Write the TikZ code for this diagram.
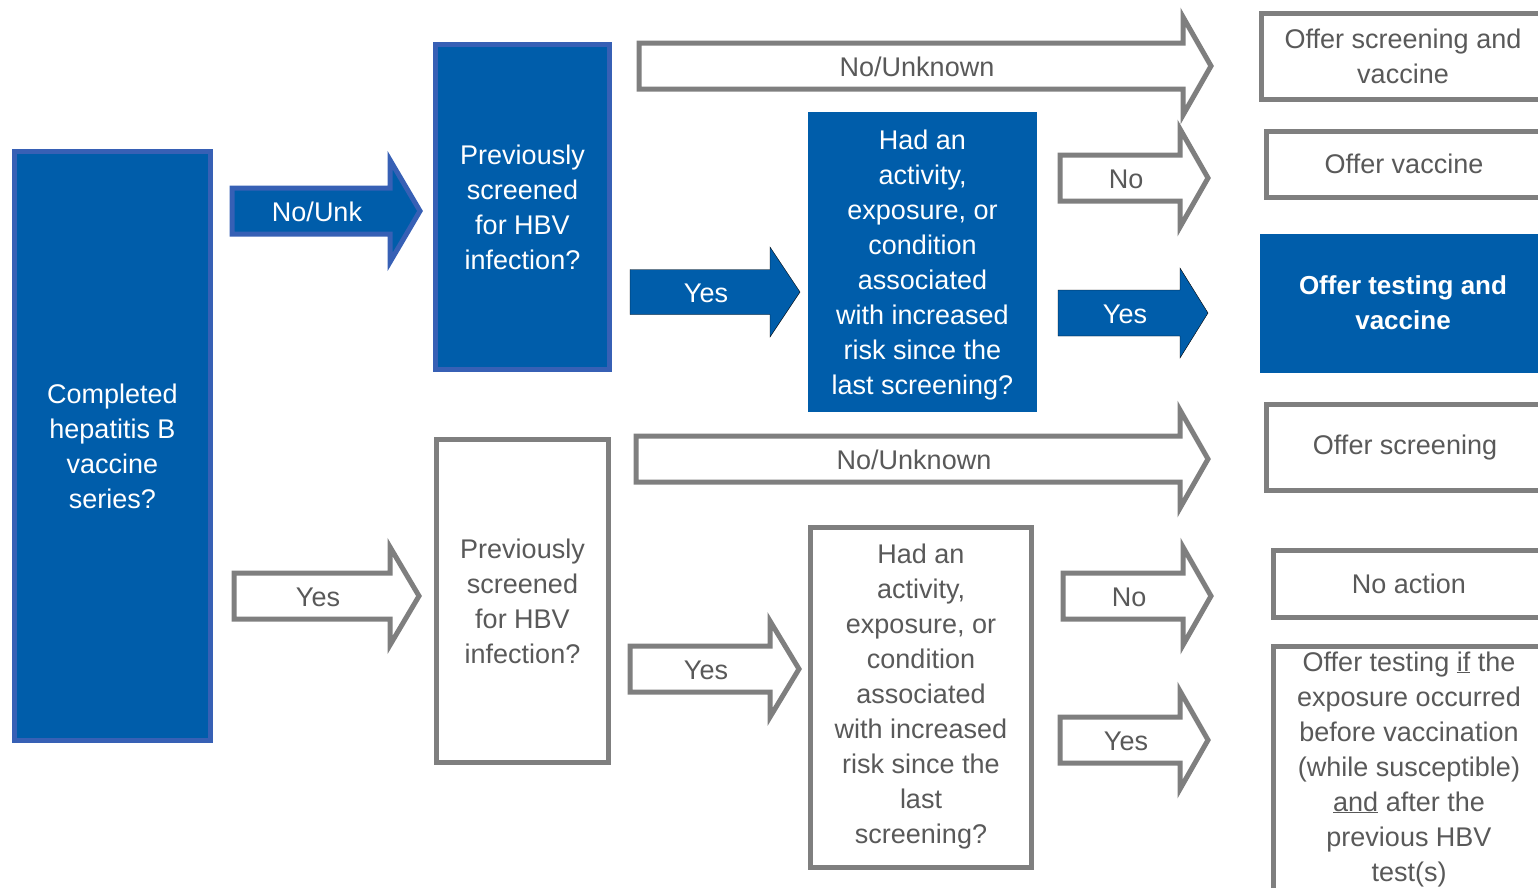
\documentclass[tikz,border=0pt]{standalone}
\usepackage{fontspec}
\setmainfont{Liberation Sans}
\definecolor{cblue}{RGB}{0,93,170}
\definecolor{cedge}{RGB}{55,96,181}
\definecolor{cgray}{RGB}{127,127,127}
\definecolor{ctext}{RGB}{89,89,89}
\newcommand\txtfont{\fontsize{27}{35}\selectfont}
\tikzset{
  box/.style={rectangle, draw=cgray, line width=5pt, fill=white, text=ctext,
    align=center, inner sep=0pt, font=\txtfont},
  bluebox/.style={rectangle, fill=cblue, text=white, align=center, inner sep=0pt, font=\txtfont},
  blueedge/.style={draw=cedge, line width=5pt},
  ga/.style={draw=cgray, line width=5pt, fill=white, line join=miter, miter limit=10},
  ga lbl/.style={text=ctext, font=\txtfont, inner sep=0pt},
  ba/.style={fill=cblue},
  ba lbl/.style={text=white, font=\txtfont, inner sep=0pt},
  be/.style={fill=cblue, draw=cedge, line width=5pt, line join=miter, miter limit=10},
  be lbl/.style={text=white, font=\txtfont, inner sep=0pt},
}
% #1 style, #2 name, #3 x0, #4 xh, #5 xt, #6 yc, #7 half shaft, #8 half head, #9 label
\newcommand\blockarrow[9]{%
  \draw[#1] (#3,#6-#7) -- (#4,#6-#7) -- (#4,#6-#8) -- (#5,#6) -- (#4,#6+#8)
    -- (#4,#6+#7) -- (#3,#6+#7) -- cycle;
  \node[#1 lbl] (#2) at ({(#3+#4)/2+6},#6+1) {#9};
}
\begin{document}
\begin{tikzpicture}[x=1pt,y=-1pt]
\useasboundingbox (0,0) rectangle (1538,887);
\clip (0,0) rectangle (1538,887);

% left question
\node[bluebox, blueedge, minimum width=196pt, minimum height=589pt] (q1) at (112.5,446)
  {Completed\\hepatitis B\\vaccine\\series?};

% upper branch
\blockarrow{be}{a1}{232}{390}{420}{211}{23}{51}{No/Unk}
\node[bluebox, blueedge, minimum width=174pt, minimum height=325pt] (q2) at (522.5,207)
  {Previously\\screened\\for HBV\\infection?};
\blockarrow{ga}{a2}{639}{1183}{1211}{66}{23}{49}{No/Unknown}
\blockarrow{ba}{a3}{630}{770}{800}{292}{22.5}{45}{Yes}
\node[bluebox, minimum width=229pt, minimum height=300pt, text depth=0pt] (q3) at (922.5,262)
  {\raisebox{-4pt}{}Had an\\activity,\\exposure, or\\condition\\associated\\with increased\\risk since the\\last screening?};
\blockarrow{ga}{a4}{1060}{1180}{1208}{178}{23}{49}{No}
\blockarrow{ba}{a5}{1058}{1180}{1208}{313}{23}{45}{Yes}

\node[box, minimum width=283pt, minimum height=86pt] (r1) at (1403,56)
  {Offer screening and\\vaccine};
\node[box, minimum width=275pt, minimum height=66pt] (r2) at (1404,164)
  {Offer vaccine};
\node[bluebox, minimum width=286pt, minimum height=139pt, font=\fontsize{26}{35}\selectfont\bfseries] (r3) at (1403,303)
  {Offer testing and\\vaccine};

% lower branch
\blockarrow{ga}{a6}{234}{390}{419}{596}{23}{49}{Yes}
\node[box, minimum width=172pt, minimum height=323pt] (q4) at (522.5,601)
  {Previously\\screened\\for HBV\\infection?};
\blockarrow{ga}{a7}{636}{1180}{1208}{459}{23}{49}{No/Unknown}
\blockarrow{ga}{a8}{630}{770}{799}{669}{23}{48}{Yes}
\node[box, minimum width=221pt, minimum height=340pt] (q5) at (921,697)
  {Had an\\activity,\\exposure, or\\condition\\associated\\with increased\\risk since the\\last\\screening?};
\blockarrow{ga}{a9}{1063}{1183}{1211}{596}{23}{49}{No}
\blockarrow{ga}{a10}{1060}{1180}{1208}{740}{23}{49}{Yes}

\node[box, minimum width=277pt, minimum height=86pt] (r4) at (1405,447.5)
  {Offer screening};
\node[box, minimum width=271pt, minimum height=67pt] (r5) at (1409,584)
  {No action};
\node[box, minimum width=271pt, minimum height=246pt] (r6) at (1409,769)
  {Offer testing \underline{if} the\\exposure occurred\\before vaccination\\(while susceptible)\\\underline{and} after the\\previous HBV\\test(s)};
\end{tikzpicture}
\end{document}
